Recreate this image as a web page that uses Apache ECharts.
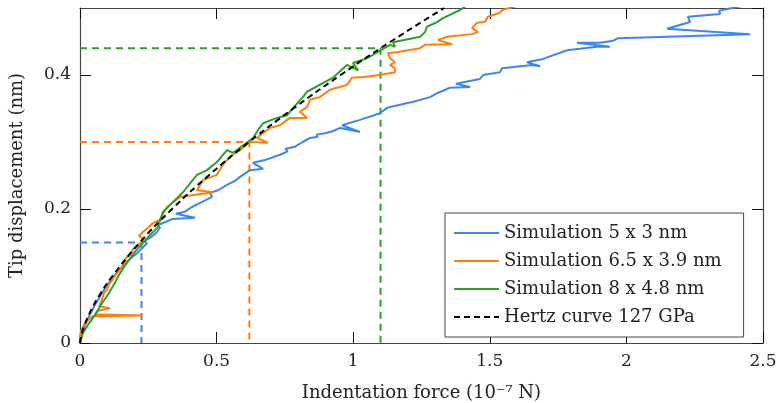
<!DOCTYPE html>
<html>
<head>
<meta charset="utf-8">
<script src="https://cdn.jsdelivr.net/npm/echarts@6/dist/echarts.min.js"></script>
<style>
  html, body { margin: 0; padding: 0; background: #fff; }
  #chart { width: 780px; height: 403px; }
</style>
</head>
<body>
<div id="chart"></div>
<script>
// legend names
const seriesNames = ['Simulation 5 x 3 nm', 'Simulation 6.5 x 3.9 nm', 'Simulation 8 x 4.8 nm', 'Hertz curve 127 GPa'];

// [force (1e-7 N), displacement (nm)]
const sim5x3 = [
  [0, 0], [0.007, 0.015], [0.022, 0.030], [0.037, 0.043], [0.055, 0.057], [0.077, 0.072],
  [0.095, 0.084], [0.117, 0.096], [0.139, 0.107], [0.165, 0.118], [0.187, 0.127], [0.209, 0.134],
  [0.231, 0.143], [0.245, 0.149], [0.234, 0.152], [0.256, 0.157], [0.278, 0.164], [0.293, 0.172],
  [0.285, 0.176], [0.315, 0.181], [0.337, 0.185], [0.421, 0.187], [0.351, 0.193], [0.384, 0.196],
  [0.410, 0.203], [0.439, 0.209], [0.458, 0.213], [0.483, 0.218], [0.476, 0.224], [0.505, 0.228],
  [0.538, 0.236], [0.567, 0.242], [0.586, 0.248], [0.622, 0.258], [0.670, 0.260], [0.633, 0.269],
  [0.677, 0.273], [0.732, 0.281], [0.760, 0.286], [0.752, 0.290], [0.787, 0.293], [0.815, 0.300],
  [0.842, 0.306], [0.870, 0.308], [0.866, 0.311], [0.897, 0.313], [0.925, 0.316], [0.952, 0.321],
  [1.025, 0.315], [0.959, 0.325], [1.025, 0.333], [1.098, 0.343], [1.124, 0.351], [1.219, 0.360],
  [1.281, 0.367], [1.303, 0.372], [1.354, 0.381], [1.428, 0.382], [1.376, 0.387], [1.464, 0.394],
  [1.475, 0.400], [1.537, 0.404], [1.545, 0.410], [1.654, 0.415], [1.684, 0.413], [1.636, 0.419],
  [1.695, 0.424], [1.783, 0.437], [1.892, 0.442], [1.940, 0.442], [1.819, 0.448], [1.903, 0.448],
  [1.951, 0.451], [1.969, 0.455], [2.452, 0.461], [2.149, 0.469], [2.233, 0.479], [2.225, 0.487],
  [2.343, 0.491], [2.339, 0.496], [2.434, 0.504]
];

const sim65x39 = [
  [0, 0], [0, 0.010], [0.004, 0.018], [0.011, 0.024], [0.018, 0.030], [0.029, 0.034],
  [0.037, 0.037], [0.048, 0.040], [0.230, 0.041], [0.055, 0.043], [0.066, 0.048], [0.110, 0.052],
  [0.070, 0.055], [0.077, 0.061], [0.084, 0.069], [0.088, 0.075], [0.099, 0.079], [0.106, 0.087],
  [0.117, 0.093], [0.128, 0.100], [0.139, 0.106], [0.150, 0.112], [0.165, 0.121], [0.168, 0.127],
  [0.183, 0.131], [0.194, 0.140], [0.212, 0.146], [0.234, 0.154], [0.216, 0.160], [0.231, 0.166],
  [0.249, 0.172], [0.264, 0.178], [0.282, 0.182], [0.293, 0.184], [0.318, 0.203], [0.366, 0.218],
  [0.487, 0.225], [0.428, 0.228], [0.450, 0.243], [0.501, 0.251], [0.523, 0.266], [0.549, 0.278],
  [0.586, 0.288], [0.622, 0.300], [0.688, 0.299], [0.648, 0.306], [0.670, 0.313], [0.695, 0.321],
  [0.732, 0.325], [0.758, 0.333], [0.769, 0.336], [0.831, 0.336], [0.805, 0.345], [0.831, 0.352],
  [0.842, 0.363], [0.878, 0.367], [0.915, 0.378], [0.977, 0.385], [0.996, 0.396], [1.036, 0.397],
  [1.098, 0.400], [1.153, 0.404], [1.153, 0.410], [1.135, 0.415], [1.153, 0.419], [1.135, 0.425],
  [1.127, 0.433], [1.160, 0.434], [1.245, 0.440], [1.263, 0.445], [1.362, 0.446], [1.310, 0.452],
  [1.343, 0.457], [1.435, 0.461], [1.457, 0.464], [1.435, 0.470], [1.453, 0.478], [1.482, 0.479],
  [1.493, 0.487], [1.537, 0.493], [1.545, 0.497], [1.600, 0.503]
];

const sim8x48 = [
  [0, 0], [0.011, 0.015], [0.029, 0.027], [0.055, 0.042], [0.077, 0.057], [0.102, 0.072],
  [0.128, 0.090], [0.139, 0.099], [0.165, 0.116], [0.201, 0.136], [0.223, 0.146], [0.256, 0.161],
  [0.285, 0.173], [0.304, 0.196], [0.340, 0.210], [0.377, 0.225], [0.428, 0.251], [0.465, 0.258],
  [0.501, 0.270], [0.538, 0.288], [0.560, 0.284], [0.611, 0.299], [0.633, 0.306], [0.652, 0.318],
  [0.670, 0.328], [0.721, 0.336], [0.758, 0.340], [0.780, 0.351], [0.816, 0.367], [0.831, 0.375],
  [0.889, 0.388], [0.926, 0.396], [0.977, 0.415], [1.018, 0.407], [0.999, 0.418], [1.051, 0.425],
  [1.135, 0.445], [1.153, 0.442], [1.146, 0.449], [1.245, 0.457], [1.263, 0.464], [1.270, 0.472],
  [1.307, 0.479], [1.329, 0.485], [1.391, 0.497], [1.413, 0.503]
];

const hertz = [
  [0, 0], [0.004, 0.01], [0.015, 0.025], [0.042, 0.05], [0.077, 0.075], [0.119, 0.1],
  [0.219, 0.15], [0.337, 0.2], [0.471, 0.25], [0.619, 0.3], [0.781, 0.35], [0.954, 0.4],
  [1.138, 0.45], [1.333, 0.5]
];

// dashed read-off guides
const guide5x3 = [[0, 0.15], [0.225, 0.15], [0.225, 0]];
const guide65x39 = [[0, 0.3], [0.62, 0.3], [0.62, 0]];
const guide8x48 = [[0, 0.44], [1.1, 0.44], [1.1, 0]];

const colors = ['#3f85f0', '#ff7f0e', '#2ca02c', '#000'];
const font = 'DejaVu Serif';

const chart = echarts.init(document.getElementById('chart'));

function guide(data, color) {
  return {
    type: 'line', data: data, symbol: 'none', silent: true, z: 1,
    lineStyle: { color: color, width: 2, type: [7, 5] }
  };
}

function sim(name, data, color, z) {
  return {
    name: name, type: 'line', data: data, symbol: 'none', z: z,
    lineStyle: { color: color, width: 2 }, itemStyle: { color: color }
  };
}

const tickStyle = { show: true, inside: true, length: 11, lineStyle: { color: '#111', width: 1 } };
const lineStyle = { show: true, onZero: false, lineStyle: { color: '#444', width: 1.2 } };

chart.setOption({
  animation: false,
  grid: { left: 80, right: 17, top: 8, bottom: 60, outerBoundsMode: 'none' },
  legend: {
    data: seriesNames,
    orient: 'vertical',
    left: 445, top: 213,
    padding: [11, 22, 11, 8],
    itemWidth: 45, itemHeight: 14, itemGap: 10,
    itemStyle: { opacity: 0 },
    borderColor: '#444', borderWidth: 1,
    backgroundColor: '#fff',
    textStyle: { fontFamily: font, fontSize: 18, color: '#222' }
  },
  xAxis: [
    {
      type: 'value', min: 0, max: 2.5, interval: 0.5,
      name: 'Indentation force (10⁻⁷ N)', nameLocation: 'middle', nameGap: 41,
      nameTextStyle: { fontFamily: font, fontSize: 18, color: '#222' },
      axisLine: lineStyle, axisTick: tickStyle, splitLine: { show: false },
      axisLabel: { fontFamily: font, fontSize: 17, color: '#222', margin: 10 }
    },
    {
      type: 'value', position: 'top', min: 0, max: 2.5, interval: 0.5,
      axisLine: lineStyle, axisTick: tickStyle, splitLine: { show: false },
      axisLabel: { show: false }
    }
  ],
  yAxis: [
    {
      type: 'value', min: 0, max: 0.5, interval: 0.2,
      name: 'Tip displacement (nm)', nameLocation: 'middle', nameGap: 54,
      nameTextStyle: { fontFamily: font, fontSize: 18, color: '#222' },
      axisLine: lineStyle, axisTick: tickStyle, splitLine: { show: false },
      axisLabel: { fontFamily: font, fontSize: 17, color: '#222', margin: 9, showMaxLabel: false }
    },
    {
      type: 'value', position: 'right', min: 0, max: 0.5, interval: 0.2,
      axisLine: lineStyle, axisTick: tickStyle, splitLine: { show: false },
      axisLabel: { show: false }
    }
  ],
  series: [
    guide(guide5x3, colors[0]),
    guide(guide65x39, colors[1]),
    guide(guide8x48, colors[2]),
    sim(seriesNames[0], sim5x3, colors[0], 2),
    sim(seriesNames[1], sim65x39, colors[1], 3),
    sim(seriesNames[2], sim8x48, colors[2], 4),
    {
      name: seriesNames[3], type: 'line', data: hertz, symbol: 'none', smooth: true, z: 5,
      lineStyle: { color: '#000', width: 2, type: [6, 4] }, itemStyle: { color: '#000' }
    }
  ]
});
</script>
</body>
</html>
